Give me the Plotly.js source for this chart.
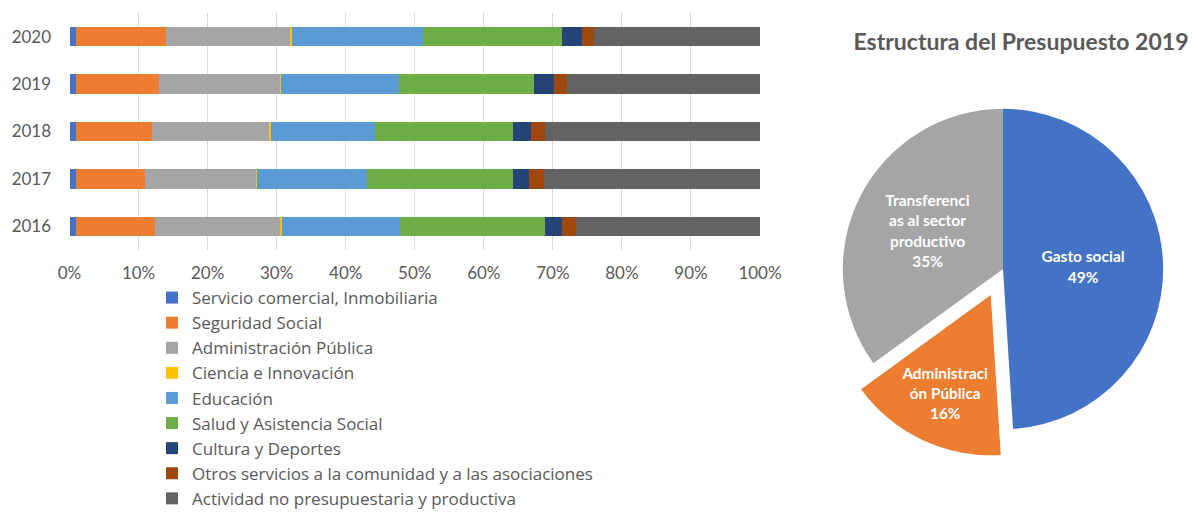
<!DOCTYPE html>
<html>
<head>
<meta charset="utf-8">
<script src="https://cdn.plot.ly/plotly-3.0.1.min.js"></script>
<style>html,body{margin:0;padding:0;background:#fff;}#chart{width:1192px;height:516px;}</style>
</head>
<body>
<div id="chart"></div>
<script>
// ---- Data ----
var years = ['2016', '2017', '2018', '2019', '2020'];
var seriesNames = [
  'Servicio comercial, Inmobiliaria',
  'Seguridad Social',
  'Administración Pública',
  'Ciencia e Innovación',
  'Educación',
  'Salud y Asistencia Social',
  'Cultura y Deportes',
  'Otros servicios a la comunidad y a las asociaciones',
  'Actividad no presupuestaria y productiva'
];
// shares (%) per year, order 2016..2020
var servicioComercial = [1.0, 1.0, 1.0, 1.0, 0.9];
var seguridadSocial   = [11.4, 10.0, 10.9, 12.0, 13.1];
var administracion    = [18.1, 16.0, 17.0, 17.5, 17.9];
var ciencia           = [0.3, 0.2, 0.3, 0.2, 0.3];
var educacion         = [17.0, 15.9, 15.0, 17.0, 19.0];
var salud             = [21.0, 21.1, 20.0, 19.5, 20.1];
var cultura           = [2.5, 2.4, 2.7, 3.0, 2.9];
var otrosServicios    = [2.0, 2.1, 2.0, 1.9, 1.8];
var actividadNoPres   = [26.7, 31.3, 31.1, 27.9, 24.0];
var seriesValues = [servicioComercial, seguridadSocial, administracion, ciencia,
  educacion, salud, cultura, otrosServicios, actividadNoPres];
var xTickVals = [0, 10, 20, 30, 40, 50, 60, 70, 80, 90, 100];
var xTickText = ['0%', '10%', '20%', '30%', '40%', '50%', '60%', '70%', '80%', '90%', '100%'];

var pieLabels = ['Gasto social', 'Administración Pública', 'Transferencias al sector productivo'];
var pieValues = [49, 16, 35];
var pieTextLabels = ['Gasto social', 'Administraci<br>ón Pública', 'Transferenci<br>as al sector<br>productivo'];
var pieTitle = 'Estructura del Presupuesto 2019';

// ---- Styles ----
var barColors = ['#4472C4', '#ED7D31', '#A5A5A5', '#FFC000', '#5B9BD5', '#70AD47', '#264478', '#9E480E', '#636363'];
var pieColors = ['#4472C4', '#ED7D31', '#A5A5A5'];
var FONT = 'Lato, "Liberation Sans", sans-serif';
var LEGFONT = '"Open Sans", Lato, sans-serif';
var TXT = '#595959';

var traces = seriesNames.map(function (name, i) {
  return {
    type: 'bar', orientation: 'h', name: name,
    y: years, x: seriesValues[i],
    marker: {color: barColors[i], line: {width: 0}},
    hoverinfo: 'x+y+name'
  };
});

traces.push({
  type: 'pie',
  labels: pieLabels, values: pieValues,
  text: pieTextLabels,
  texttemplate: '%{text}<br>%{percent:.0%}',
  textposition: 'inside',
  insidetextorientation: 'horizontal',
  sort: false, direction: 'clockwise', rotation: 0,
  pull: [0, 0.18, 0],
  marker: {colors: pieColors, line: {width: 0}},
  textfont: {family: FONT, size: 15.5, color: '#ffffff', weight: 'bold'},
  domain: {x: [814 / 1192, 1], y: [(516 - 458) / 516, (516 - 80) / 516]},
  showlegend: false
});

var layout = {
  width: 1192, height: 516,
  margin: {l: 0, r: 0, t: 0, b: 0},
  paper_bgcolor: '#ffffff', plot_bgcolor: '#ffffff',
  font: {family: FONT, color: TXT, size: 17},
  barmode: 'stack', bargap: 0.59,
  title: {
    text: pieTitle,
    font: {family: FONT, size: 23, color: TXT, weight: 'bold'},
    x: 1021 / 1192, xanchor: 'center', xref: 'paper',
    y: 1 - 42 / 516, yanchor: 'middle', yref: 'container'
  },
  xaxis: {
    domain: [69.5 / 1192, 760 / 1192],
    range: [0, 100], tickvals: xTickVals, ticktext: xTickText,
    showgrid: true, gridcolor: '#D9D9D9', gridwidth: 1,
    zeroline: false, showline: false,
    ticks: 'outside', ticklen: 8, tickcolor: 'rgba(0,0,0,0)',
    tickfont: {family: FONT, size: 17, color: TXT},
    fixedrange: true
  },
  yaxis: {
    domain: [(516 - 250) / 516, (516 - 13) / 516],
    type: 'category', range: [-0.5, 4.5],
    showgrid: false, zeroline: false, showline: false,
    ticks: 'outside', ticklen: 14, tickcolor: 'rgba(0,0,0,0)',
    tickfont: {family: FONT, size: 17, color: TXT},
    fixedrange: true
  },
  showlegend: true,
  legend: {
    orientation: 'v', traceorder: 'normal',
    x: 152 / 1192, xanchor: 'left',
    y: 0, yanchor: 'bottom',
    font: {family: LEGFONT, size: 17, color: TXT},
    bgcolor: 'rgba(0,0,0,0)', borderwidth: 0
  }
};

Plotly.newPlot('chart', traces, layout, {displayModeBar: false});
</script>
</body>
</html>
